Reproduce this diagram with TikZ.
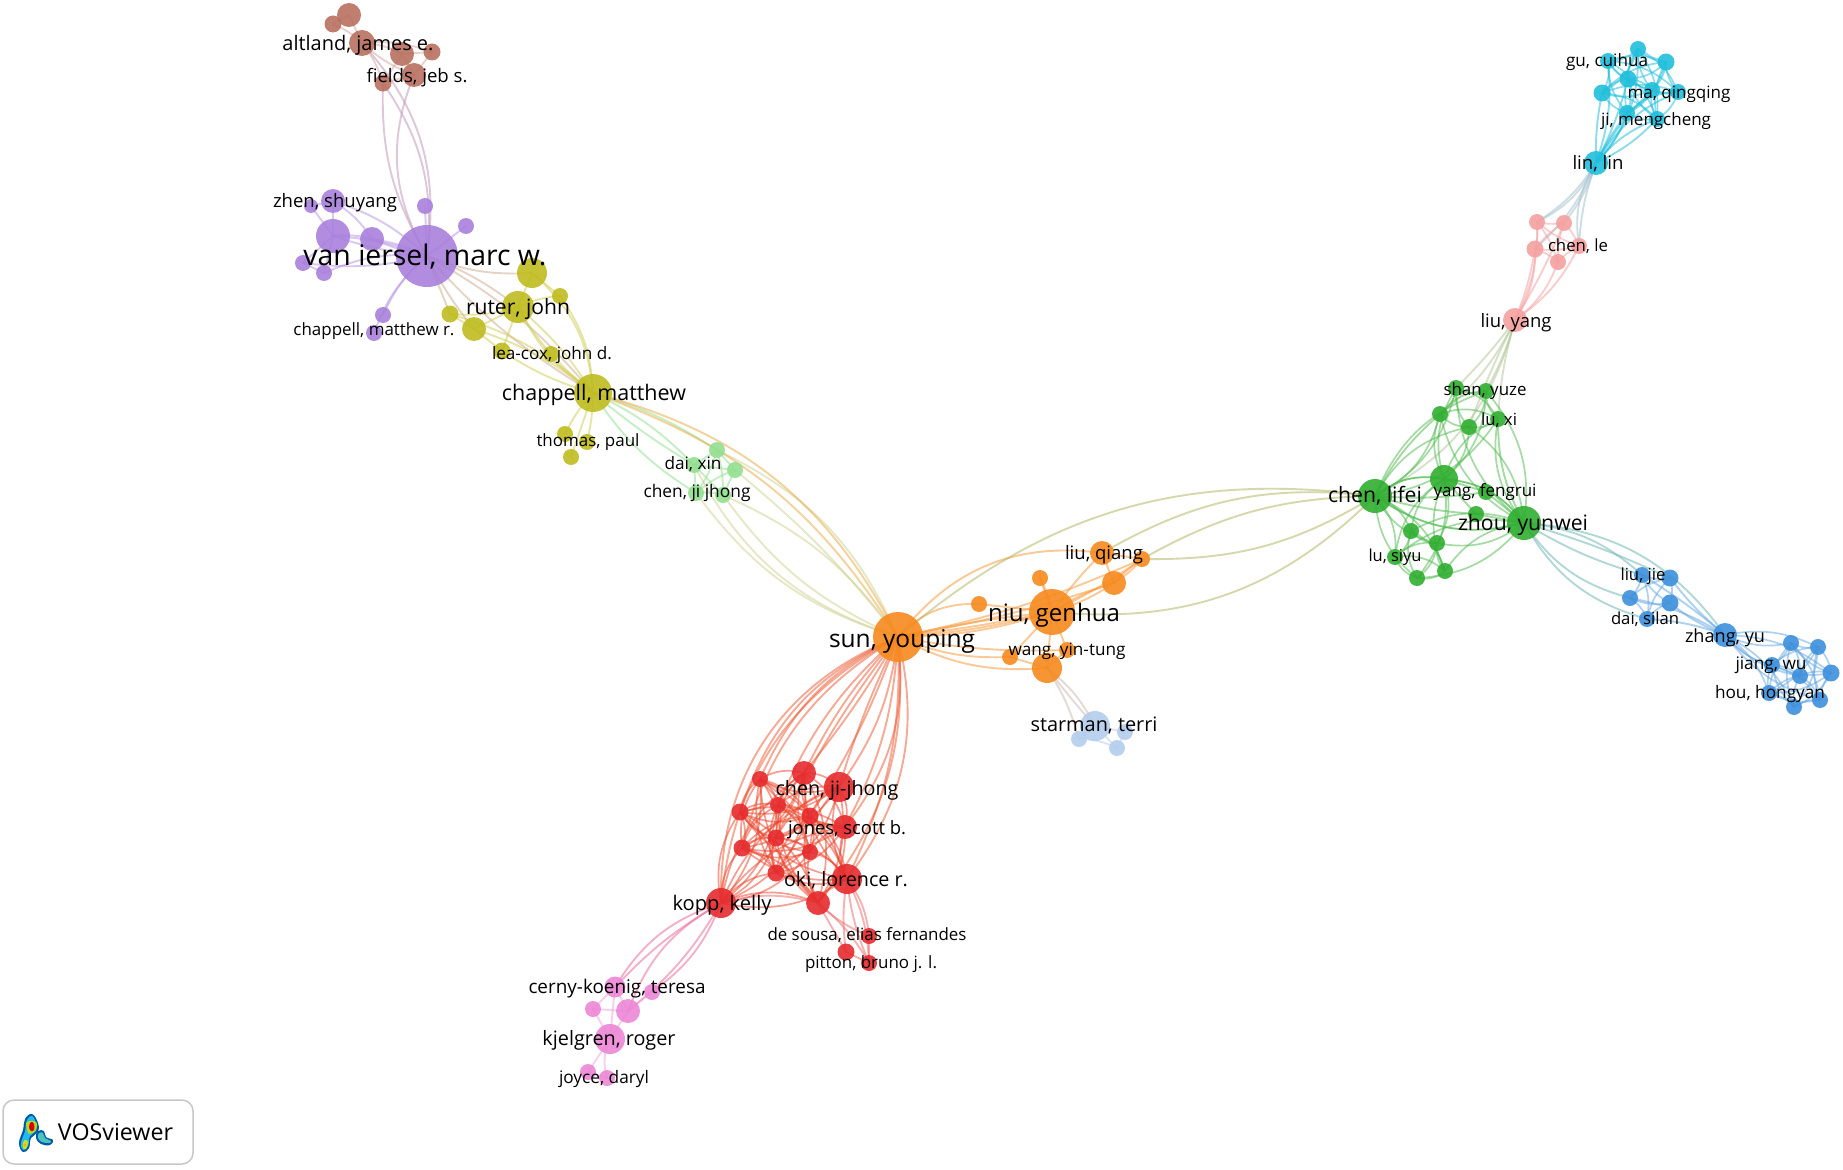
\documentclass[tikz,border=0pt]{standalone}
\usepackage{fontspec}
\usepackage{graphicx}
\setmainfont{Open Sans}
\pgfdeclarelayer{bg}
\pgfsetlayers{bg,main}
\definecolor{cPu}{HTML}{A880DC}
\definecolor{cYe}{HTML}{BFBC1F}
\definecolor{cBr}{HTML}{B8705F}
\definecolor{cGr}{HTML}{30AE30}
\definecolor{cCy}{HTML}{20BEDB}
\definecolor{cSa}{HTML}{F4A0A0}
\definecolor{cBl}{HTML}{3D90DB}
\definecolor{cOr}{HTML}{F68A1E}
\definecolor{cLb}{HTML}{B4CDEC}
\definecolor{cRe}{HTML}{E62B2E}
\definecolor{cMa}{HTML}{EC86D6}
\definecolor{cLg}{HTML}{92DF8F}
\tikzset{
  dot/.style={circle,inner sep=0pt,outer sep=0pt,fill opacity=0.9,draw=none},
  edge/.style={line width=1.9pt,draw opacity=0.52,line cap=round},
  lab/.style={inner sep=0pt,outer sep=0pt,text=black,anchor=center,yshift=-2pt},
}
% #1 colour, #2 list name/x/y/r
\newcommand{\mydots}[2]{\foreach \n/\x/\y/\r in {#2}{\node[dot,fill=#1,minimum size=2*\r pt] (\n) at (\x,\y) {};}}
% #1 colour, #2 list a/b/bend
\newcommand{\myedges}[2]{\begin{pgfonlayer}{bg}\foreach \a/\b/\c in {#2}{\draw[edge,#1] (\a.center) to[bend left=\c] (\b.center);}\end{pgfonlayer}}
% #1 colour, #2 bend, #3 list of names: every pair
\newcommand{\myclique}[3]{\begin{pgfonlayer}{bg}\foreach \a [count=\i] in {#3}{\foreach \b [count=\j] in {#3}{\ifnum\i<\j\relax
  \pgfmathsetmacro{\bnd}{mod(\i+\j,2)==0 ? #2 : -#2}
  \draw[edge,#1,line width=1.7pt] (\a.center) to[bend left=\bnd] (\b.center);\fi}}\end{pgfonlayer}}
% #1 name #2 x #3 y #4 width #5 text
\newcommand{\mylab}[5]{\node[lab] (#1) at (#2,#3) {\resizebox{#4pt}{!}{\vphantom{Ag}#5}};}
\begin{document}
\begin{tikzpicture}[x=1pt,y=-1pt]
\useasboundingbox (0,0) rectangle (1843,1169);
% nodes
\mydots{cBr}{br0/349/15/12,br1/333/24/8.5,br2/362/43/13,br3/402/54/12,br4/432/52/8.5,br5/414/75/12,br6/383/83/8.5}
\mydots{cPu}{pu0/427/256/31,pu1/333/201/12,pu2/311/206/7,pu3/333/236/17,pu4/372/239/12,pu5/303/263/8,pu6/324/273/8,pu7/425/206/8,pu8/466/226/8,pu9/383/315/8,pu10/374/333/8}
\mydots{cYe}{ye0/532/273/15,ye1/518/307/16,ye2/560/296/8,ye3/450/314/8.5,ye4/474/329/12,ye5/502/351/8.5,ye6/551/354/8,ye7/593/393/19,ye8/565/434/8,ye9/587/442/8,ye10/571/457/8}
\mydots{cLg}{lg0/717/450/8,lg1/735/470/8,lg2/694/465/8,lg3/696/493/8,lg4/723/495/8}
\mydots{cCy}{cy0/1638/49/8,cy1/1666/62/8.5,cy2/1608/61/8,cy3/1628/79/8.5,cy4/1602/93/8.5,cy5/1652/90/8,cy6/1678/92/8,cy7/1627/113/8,cy8/1657/119/8,cy9/1596/163/12}
\mydots{cSa}{sa0/1537/222/8,sa1/1564/223/8,sa2/1535/249/8.5,sa3/1579/246/8,sa4/1558/262/8,sa5/1515/320/12}
\mydots{cGr}{gr0/1456/388/8,gr1/1486/391/8,gr2/1440/414/8,gr3/1469/427/8,gr4/1498/419/8,gr5/1444/479/14,gr6/1375/496/17,gr7/1486/492/8,gr8/1476/514/8,gr9/1524/523/17,gr10/1411/531/8,gr11/1437/543/8,gr12/1395/557/8,gr13/1417/578/8,gr14/1445/571/8}
\mydots{cBl}{bl0/1642/575/8,bl1/1670/578/8.5,bl2/1630/598/8,bl3/1670/603/8.5,bl4/1647/619/8,bl5/1725/635/12,bl6/1791/643/8,bl7/1818/647/8,bl8/1772/665/8,bl9/1831/673/8.5,bl10/1800/676/8,bl11/1769/693/8,bl12/1820/700/8,bl13/1794/707/8}
\mydots{cOr}{or0/898/637/25,or1/1052/612/23,or2/1102/553/12,or3/1142/559/8,or4/1114/583/12,or5/1040/578/8,or6/979/604/8,or7/1067/650/8,or8/1010/657/8,or9/1047/668/15}
\mydots{cLb}{lb0/1095/726/15,lb1/1079/739/8,lb2/1125/732/8,lb3/1117/748/8}
\mydots{cRe}{re0/804/773/12,re1/760/779/8,re2/839/787/15,re3/778/805/8,re4/740/812/8.5,re5/810/816/8.5,re6/845/827/12,re7/776/838/8.5,re8/742/848/8.5,re9/810/852/8,re10/776/873/8.5,re11/847/879/15,re12/818/903/12,re13/721/903/15,re14/869/936/8,re15/846/952/8.5,re16/869/963/8}
\mydots{cMa}{ma0/615/987/10.5,ma1/593/1009/8,ma2/628/1011/12,ma3/652/992/8,ma4/610/1039/15,ma5/588/1072/8,ma6/607/1078/8}
% edges: brown
\myedges{cBr!60!white}{br0/br1/0,br0/br2/0,br1/br2/10,br2/br3/12,br2/br4/12,br3/br4/0,br3/br5/0,br4/br5/0,br2/br5/-10,br2/br6/10,br3/br6/0,br5/br6/0}
\myedges{cBr!45!cPu!80!white}{br6/pu0/-16,br5/pu0/-26,br6/pu0/20,br2/pu0/25}
% purple
\myedges{cPu!85!white}{pu0/pu1/-12,pu0/pu3/6,pu0/pu3/-8,pu0/pu4/5,pu0/pu4/-8,pu0/pu7/0,pu0/pu8/0,pu0/pu9/-12,pu0/pu10/-14,pu0/pu6/-14,pu0/pu5/10,pu1/pu3/0,pu1/pu2/0,pu2/pu3/0,pu3/pu4/10,pu3/pu5/0,pu3/pu6/0,pu1/pu4/12,pu5/pu6/0}
% purple-yellow
\myedges{cPu!35!cYe!45!cBr!70!white}{pu0/ye7/10,pu0/ye7/-8,pu0/ye1/8,pu0/ye0/-12,pu0/ye4/-6,pu0/ye3/0}
% yellow
\myedges{cYe!75!white}{ye7/ye0/-22,ye7/ye2/-16,ye7/ye1/-8,ye7/ye1/14,ye7/ye4/-10,ye7/ye3/-12,ye7/ye5/8,ye7/ye6/4,ye7/ye8/-8,ye7/ye9/6,ye7/ye10/0,ye1/ye0/0,ye1/ye2/10,ye0/ye2/0,ye1/ye4/0,ye1/ye3/10,ye1/ye5/0,ye1/ye6/-6,ye3/ye4/0,ye4/ye5/0}
% light green
\myedges{cLg}{ye7/lg2/10,ye7/lg2/-4,ye7/lg0/8,ye7/lg3/-12,lg0/lg1/0,lg0/lg2/0,lg0/lg4/8,lg1/lg2/0,lg1/lg4/0,lg1/lg3/-10,lg2/lg3/0,lg2/lg4/0,lg3/lg4/10,lg0/lg3/10}
\myedges{cLg!60!cOr!70!white}{lg3/or0/-18,lg2/or0/-22,lg4/or0/-15,lg4/or0/15,lg0/or0/20,lg1/or0/6}
\myedges{cYe!30!cOr!85!white}{ye7/or0/24,ye7/or0/19}
% orange
\myedges{cOr!90!white}{or0/or1/-8,or0/or1/-5,or0/or1/-2,or0/or1/3,or0/or2/30,or0/or6/24,or0/or4/-4,or0/or7/-6,or0/or8/-12,or0/or9/-16,or0/or3/-6,or1/or2/4,or1/or3/-4,or1/or4/-8,or1/or4/8,or1/or5/0,or1/or6/0,or1/or7/0,or1/or8/0,or1/or9/0,or2/or3/0,or2/or4/0,or3/or4/8,or3/or4/-6,or7/or9/0,or8/or9/0,or5/or1/8}
\myedges{cOr!50!cGr!75!white}{or0/gr6/24,or2/gr6/18,or3/gr6/14,or3/gr6/-16,or1/gr6/-25}
% light blue
\myedges{cLb}{lb0/lb1/0,lb0/lb2/0,lb0/lb3/0,lb1/lb3/12,lb2/lb3/0}
\myedges{cOr!30!cLb}{or9/lb0/12,or9/lb0/-2,or9/lb1/8}
% red
\myclique{cRe!75!cOr}{22}{re0,re1,re2,re3,re4,re5,re6,re7,re8,re9,re10,re11,re12,re13}
\myedges{cRe!60!cOr!95!white}{or0/re13/-35,or0/re13/-28,or0/re1/-20,or0/re4/-24,or0/re8/-22,or0/re3/-12,or0/re0/-8,or0/re0/4,or0/re2/-4,or0/re2/14,or0/re5/6,or0/re6/22,or0/re6/12,or0/re7/-6,or0/re11/25,or0/re11/14,or0/re12/22}
\myedges{cRe!70!white}{re11/re14/15,re11/re16/12,re11/re16/-8,re11/re15/-8,re12/re14/-10,re12/re15/0,re12/re16/10,re15/re16/0,re14/re16/0,re13/re12/15}
% magenta
\myedges{cRe!35!cMa}{re13/ma0/-20,re13/ma2/-20,re13/ma0/-8,re13/ma3/16,re13/ma2/10}
\myedges{cMa!75!white}{ma0/ma1/0,ma0/ma2/0,ma0/ma4/0,ma1/ma2/0,ma1/ma4/0,ma2/ma3/0,ma2/ma4/0,ma4/ma5/0,ma4/ma6/-20,ma5/ma6/0}
% salmon, cyan
\myclique{cCy}{20}{cy0,cy1,cy2,cy3,cy4,cy5,cy6,cy7,cy8}
\myedges{cCy}{cy9/cy0/-22,cy9/cy2/-12,cy9/cy4/6,cy9/cy3/-6,cy9/cy7/5,cy9/cy7/-12,cy9/cy8/-10,cy9/cy8/14,cy9/cy5/8,cy9/cy6/18}
\myedges{cCy!50!cSa!80!white}{cy9/sa0/12,cy9/sa0/18,cy9/sa1/10,cy9/sa3/-8,cy9/sa2/12,cy9/sa3/-20}
\myclique{cSa}{10}{sa0,sa1,sa2,sa3,sa4}
\myedges{cSa}{sa5/sa0/-14,sa5/sa2/-6,sa5/sa2/-16,sa5/sa1/-4,sa5/sa4/-16,sa5/sa3/-14}
\myedges{cSa!45!cGr!65!white}{sa5/gr6/24,sa5/gr0/4,sa5/gr2/12,sa5/gr1/6,sa5/gr4/-6,sa5/gr3/-3}
% green
\myclique{cGr!85!white}{24}{gr0,gr1,gr2,gr3,gr4,gr5,gr6,gr9}
\myclique{cGr!85!white}{24}{gr5,gr6,gr9,gr10,gr11,gr12,gr13,gr14}
\myedges{cGr!85!white}{gr6/gr7/-6,gr6/gr8/-6,gr9/gr7/0,gr9/gr8/0,gr5/gr7/0,gr5/gr8/0,gr9/gr4/14,gr6/gr2/10}
% blue
\myedges{cGr!40!cBl!75!white}{gr9/bl5/25,gr9/bl0/18,gr9/bl0/-7,gr9/bl1/4,gr9/bl2/-20,gr9/bl4/-22}
\myclique{cBl!80!white}{16}{bl0,bl1,bl2,bl3,bl4}
\myedges{cBl!80!white}{bl5/bl1/6,bl5/bl3/8,bl5/bl2/-10,bl5/bl4/-8,bl5/bl0/-4}
\myclique{cBl!80!white}{18}{bl5,bl6,bl7,bl8,bl9,bl10,bl11,bl12,bl13}
% labels
\mylab{t1}{425}{256}{243}{van iersel, marc w.}
\mylab{t2}{902}{639}{146}{sun, youping}
\mylab{t3}{1054}{613}{132}{niu, genhua}
\mylab{t4}{1375}{495}{94}{chen, lifei}
\mylab{t5}{1523}{523}{130}{zhou, yunwei}
\mylab{t6}{594}{393}{184}{chappell, matthew}
\mylab{t7}{518}{307}{104}{ruter, john}
\mylab{t8}{358}{43}{151}{altland, james e.}
\mylab{t9}{417}{76}{101}{fields, jeb s.}
\mylab{t10}{335}{201}{124}{zhen, shuyang}
\mylab{t11}{374}{329}{161}{chappell, matthew r.}
\mylab{t12}{552}{353}{120}{lea-cox, john d.}
\mylab{t13}{588}{440}{103}{thomas, paul}
\mylab{t14}{693}{463}{57}{dai, xin}
\mylab{t15}{697}{491}{107}{chen, ji jhong}
\mylab{t16}{1607}{60}{82}{gu, cuihua}
\mylab{t17}{1679}{92}{103}{ma, qingqing}
\mylab{t18}{1656}{119}{110}{ji, mengcheng}
\mylab{t19}{1598}{163}{51}{lin, lin}
\mylab{t20}{1578}{245}{60}{chen, le}
\mylab{t21}{1516}{321}{71}{liu, yang}
\mylab{t22}{1485}{389}{83}{shan, yuze}
\mylab{t23}{1499}{419}{36}{lu, xi}
\mylab{t24}{1485}{490}{103}{yang, fengrui}
\mylab{t25}{1395}{555}{53}{lu, siyu}
\mylab{t26}{1643}{574}{45}{liu, jie}
\mylab{t27}{1645}{618}{68}{dai, silan}
\mylab{t28}{1725}{636}{80}{zhang, yu}
\mylab{t29}{1771}{663}{71}{jiang, wu}
\mylab{t30}{1770}{692}{110}{hou, hongyan}
\mylab{t31}{1104}{553}{78}{liu, qiang}
\mylab{t32}{1067}{649}{117}{wang, yin-tung}
\mylab{t33}{1094}{725}{127}{starman, terri}
\mylab{t34}{837}{788}{123}{chen, ji-jhong}
\mylab{t35}{847}{828}{118}{jones, scott b.}
\mylab{t36}{846}{879}{124}{oki, lorence r.}
\mylab{t37}{722}{903}{99}{kopp, kelly}
\mylab{t38}{867}{934}{199}{de sousa, elias fernandes}
\mylab{t39}{871}{962}{132}{pitton, bruno j. l.}
\mylab{t40}{617}{987}{177}{cerny-koenig, teresa}
\mylab{t41}{609}{1038}{133}{kjelgren, roger}
\mylab{t42}{604}{1077}{90}{joyce, daryl}
% VOSviewer box
\node[draw=black!22,line width=1.5pt,rounded corners=11pt,fill=white,minimum width=190pt,minimum height=64pt,inner sep=0pt] (vosbox) at (98,1132) {};
\mylab{vostext}{115.5}{1133}{115}{VOSviewer}
\fill[teal!70!blue] plot[smooth cycle,tension=.7] coordinates {(32,1114)(38,1123)(38,1132)(31,1138)(29,1148)(23,1152)(19,1143)(23,1130)(25,1119)};
\fill[teal!70!blue] plot[smooth cycle,tension=.7] coordinates {(38,1131)(44,1131)(46,1137)(53,1140)(50,1145)(41,1144)(36,1138)};
\fill[cyan!85!white] plot[smooth cycle,tension=.7] coordinates {(32,1116)(36,1123)(36,1131)(30,1136)(28,1146)(23,1150)(21,1143)(25,1131)(27,1120)};
\fill[cyan!60!green!70!white] plot[smooth cycle,tension=.7] coordinates {(39,1133)(43,1133)(45,1138)(51,1141)(49,1143)(42,1142)(38,1138)};
\fill[yellow!80!green] plot[smooth cycle,tension=.7] coordinates {(25,1140)(28,1142)(26,1149)(23,1148)(23,1143)};
\fill[orange!60!yellow] (25,1145) circle (1.6pt);
\fill[yellow!70!green] plot[smooth cycle,tension=.7] coordinates {(27,1122)(36,1122)(36,1130)(30,1134)(27,1130)};
\fill[red!85!black] plot[smooth cycle,tension=.7] coordinates {(31,1122)(34,1124)(34,1130)(31,1131)(29,1127)};
\end{tikzpicture}
\end{document}
